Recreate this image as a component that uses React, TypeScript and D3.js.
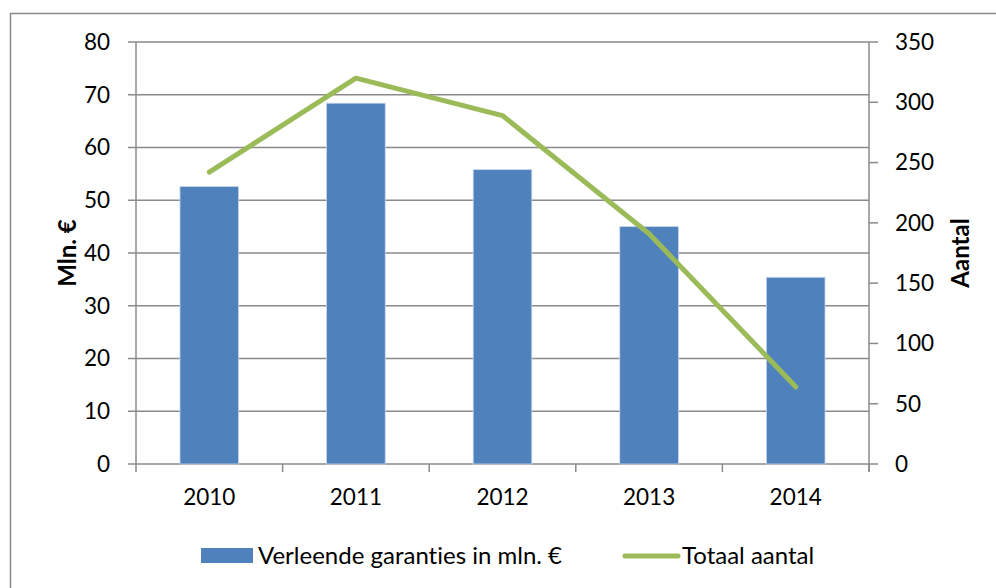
import React from "react";
import * as d3 from "d3";

const years = ["2010", "2011", "2012", "2013", "2014"];
const garanties = [52.6, 68.4, 55.8, 45.0, 35.4];
const aantal = [242, 320, 289, 191, 64];
const leftTicks = [0, 10, 20, 30, 40, 50, 60, 70, 80];
const rightTicks = [0, 50, 100, 150, 200, 250, 300, 350];

const W = 996;
const H = 588;
const margin = { left: 136, right: 127, top: 42, bottom: 124 };
const font = "Lato, 'Open Sans', sans-serif";
const grid = "#8a8a8a";

const App = () => {
  const x0 = margin.left;
  const x1 = W - margin.right;
  const y0 = margin.top;
  const y1 = H - margin.bottom;

  const x = d3.scaleBand().domain(years).range([x0, x1]).paddingInner(0.6).paddingOuter(0.3);
  const yL = d3.scaleLinear().domain([0, 80]).range([y1, y0]);
  const yR = d3.scaleLinear().domain([0, 350]).range([y1, y0]);
  const step = x.step();

  const line = d3
    .line<number>()
    .x((_, i) => (x(years[i]) as number) + x.bandwidth() / 2)
    .y((d) => yR(d));

  return (
    <svg
      width={W}
      height={H}
      style={{ position: "absolute", left: 0, top: 0, fontVariantLigatures: "none" }}
      fontFamily={font}
    >
      <rect x={0} y={0} width={W} height={H} fill="#fff" />
      <rect x={10.5} y={13.5} width={1100} height={700} fill="none" stroke={grid} strokeWidth={1.5} />

      {/* gridlines + left ticks */}
      {leftTicks.map((t) => (
        <g key={"l" + t}>
          <line x1={x0 - 8} x2={x1} y1={yL(t)} y2={yL(t)} stroke={grid} strokeWidth={1.5} />
          <text x={110} y={yL(t)} dy="0.35em" textAnchor="end" fontSize={22.5}>
            {t}
          </text>
        </g>
      ))}
      <line x1={x0} x2={x0} y1={y0} y2={y1} stroke={grid} strokeWidth={1.5} />
      <line x1={x1} x2={x1} y1={y0} y2={y1 + 8} stroke={grid} strokeWidth={1.5} />
      {rightTicks.map((t) => (
        <g key={"r" + t}>
          <line x1={x1} x2={x1 + 9} y1={yR(t)} y2={yR(t)} stroke={grid} strokeWidth={1.5} />
          <text x={895} y={yR(t)} dy="0.35em" fontSize={22.5}>
            {t}
          </text>
        </g>
      ))}

      {/* category ticks */}
      {d3.range(years.length + 1).map((i) => (
        <line key={"c" + i} x1={x0 + i * step} x2={x0 + i * step} y1={y1} y2={y1 + 8} stroke={grid} strokeWidth={1.5} />
      ))}
      {years.map((yr) => (
        <text key={yr} x={(x(yr) as number) + x.bandwidth() / 2} y={497} dy="0.35em" textAnchor="middle" fontSize={22.5}>
          {yr}
        </text>
      ))}

      {/* bars */}
      {garanties.map((v, i) => (
        <rect
          key={years[i]}
          x={x(years[i])}
          y={yL(v)}
          width={x.bandwidth()}
          height={y1 - yL(v)}
          fill="#4f81bd"
          stroke="#c7d7ec"
          strokeWidth={0.8}
        />
      ))}

      <path d={line(aantal) || ""} fill="none" stroke="#9bbb59" strokeWidth={5} strokeLinecap="round" strokeLinejoin="round" />

      {/* axis titles */}
      <text transform="translate(68,253) rotate(-90)" textAnchor="middle" dy="0.35em" fontSize={24} fontWeight="bold">
        Mln. €
      </text>
      <text transform="translate(961,253) rotate(-90)" textAnchor="middle" dy="0.35em" fontSize={24} fontWeight="bold">
        Aantal
      </text>

      {/* legend */}
      <rect x={201} y={548} width={52} height={15} fill="#4f81bd" />
      <text x={258} y={556} dy="0.35em" fontSize={24}>
        Verleende garanties in mln. €
      </text>
      <line x1={625} x2={678} y1={556} y2={556} stroke="#9bbb59" strokeWidth={5} strokeLinecap="round" />
      <text x={682} y={556} dy="0.35em" fontSize={24}>
        Totaal aantal
      </text>
    </svg>
  );
};

export default App;
